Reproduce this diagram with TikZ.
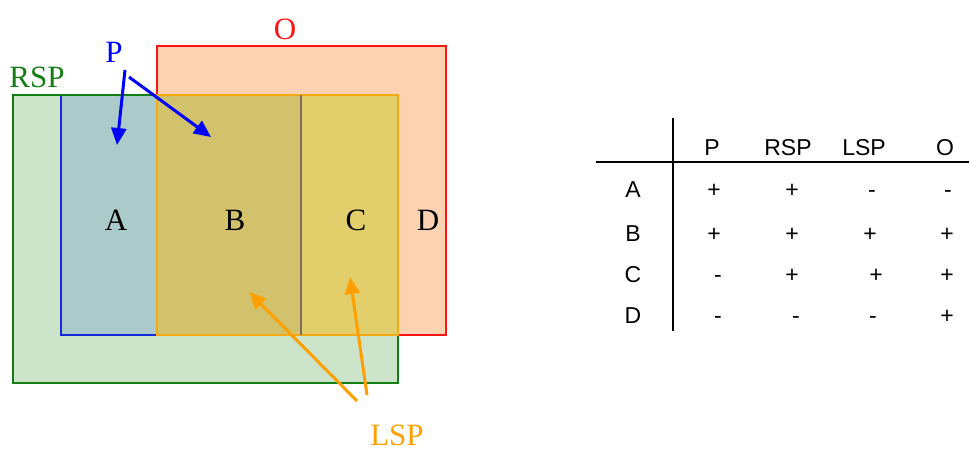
\documentclass[tikz,border=0pt]{standalone}
\usepackage{fontspec}
\setmainfont{Liberation Serif}
\newfontfamily\tabfont{Liberation Sans}
\usetikzlibrary{arrows.meta}
\definecolor{rspfill}{RGB}{203,228,202}
\definecolor{rspline}{RGB}{20,125,20}
\definecolor{ofill}{RGB}{253,210,178}
\definecolor{oline}{RGB}{250,20,20}
\definecolor{afill}{RGB}{170,203,202}
\definecolor{bfill}{RGB}{209,194,107}
\definecolor{cfill}{RGB}{226,206,107}
\definecolor{lspline}{RGB}{245,170,20}
\definecolor{pline}{RGB}{20,40,220}
\definecolor{pblue}{RGB}{0,0,255}
\definecolor{lsporange}{RGB}{255,160,0}
\definecolor{divline}{RGB}{128,112,100}
\tikzset{
  bigtxt/.style={font=\fontsize{31}{36}\selectfont, inner sep=0pt},
  tabtxt/.style={font=\tabfont\fontsize{23}{28}\selectfont, inner sep=0pt, anchor=base},
  parrow/.style={pblue, line width=3pt, -{Triangle[length=17pt,width=15pt]}},
  larrow/.style={lsporange, line width=3pt, -{Triangle[length=17pt,width=15pt]}},
}
\begin{document}
\begin{tikzpicture}[x=1pt,y=-1pt]
\useasboundingbox (0,0) rectangle (969,448);
% fills
\fill[rspfill] (13,95) rectangle (398,383);
\fill[ofill] (157,46) rectangle (446,335);
\fill[afill] (61,95) rectangle (157,335);
\fill[bfill] (157,95) rectangle (301,335);
\fill[cfill] (301,95) rectangle (398,335);
% borders
\draw[pline, line width=2pt] (61,95) rectangle (301,335);
\draw[rspline, line width=2pt] (13,95) rectangle (398,383);
\draw[oline, line width=2pt] (157,46) rectangle (446,335);
\draw[lspline, line width=2pt] (157,95) rectangle (398,335);
\draw[divline, line width=2pt] (301,95) -- (301,335);
% region labels
\node[bigtxt] (A) at (116,220) {A};
\node[bigtxt] (B) at (235,220) {B};
\node[bigtxt] (C) at (356,220) {C};
\node[bigtxt] (D) at (428,220) {D};
% set labels
\node[bigtxt, text=oline] (O) at (285,29) {O};
\node[bigtxt, text=pblue] (P) at (114,52) {P};
\node[bigtxt, text=rspline] (RSP) at (37,77) {RSP};
\node[bigtxt, text=lsporange] (LSP) at (397,435) {LSP};
% arrows
\coordinate (p1s) at (125,70);
\coordinate (p1e) at (117,145);
\coordinate (p2s) at (129,77);
\coordinate (p2e) at (211,137);
\coordinate (l1s) at (357,401);
\coordinate (l1e) at (249,292);
\coordinate (l2s) at (367,395);
\coordinate (l2e) at (350,277);
\draw[parrow] (p1s) -- (p1e);
\draw[parrow] (p2s) -- (p2e);
\draw[larrow] (l1s) -- (l1e);
\draw[larrow] (l2s) -- (l2e);
% table
\coordinate (hl) at (596,162);
\coordinate (hr) at (969,162);
\coordinate (vt) at (673,118);
\coordinate (vb) at (673,331);
\draw[line width=2pt] (hl) -- (hr);
\draw[line width=2pt] (vt) -- (vb);
\node[tabtxt] (hP) at (712,155) {P};
\node[tabtxt] (hRSP) at (788,155) {RSP};
\node[tabtxt] (hLSP) at (864,155) {LSP};
\node[tabtxt] (hO) at (945,155) {O};
\node[tabtxt] (rA) at (633,197) {A};
\node[tabtxt] (rB) at (633,241) {B};
\node[tabtxt] (rC) at (633,282) {C};
\node[tabtxt] (rD) at (633,323) {D};
% row A
\node[tabtxt] (a1) at (714,197) {+};
\node[tabtxt] (a2) at (792,197) {+};
\node[tabtxt] (a3) at (872,197) {-};
\node[tabtxt] (a4) at (948,197) {-};
% row B
\node[tabtxt] (b1) at (714,241) {+};
\node[tabtxt] (b2) at (792,241) {+};
\node[tabtxt] (b3) at (870,241) {+};
\node[tabtxt] (b4) at (947,241) {+};
% row C
\node[tabtxt] (c1) at (718,282) {-};
\node[tabtxt] (c2) at (792,282) {+};
\node[tabtxt] (c3) at (876,282) {+};
\node[tabtxt] (c4) at (947,282) {+};
% row D
\node[tabtxt] (d1) at (718,323) {-};
\node[tabtxt] (d2) at (796,323) {-};
\node[tabtxt] (d3) at (873,323) {-};
\node[tabtxt] (d4) at (947,323) {+};
\end{tikzpicture}
\end{document}
